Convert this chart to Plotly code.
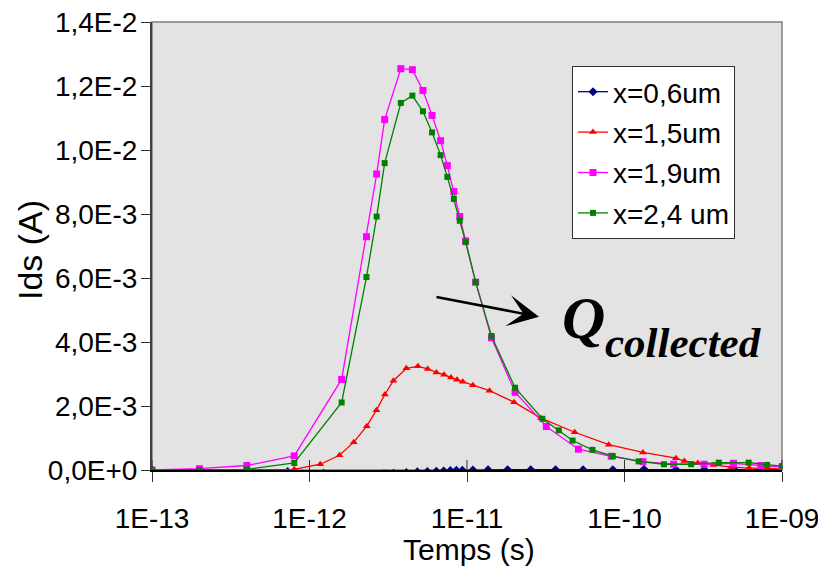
import plotly.graph_objects as go

# ---- data (time in s, current in mA -> converted to A) ----
t_06 = [1e-13, 2e-13, 4e-13, 7.26e-13, 1.23e-12, 1.57e-12, 1.8e-12, 2.16e-12, 2.97e-12, 3.1e-12,
        3.42e-12, 4.12e-12, 4.84e-12, 5.6e-12, 6.39e-12, 7.11e-12, 7.84e-12, 8.56e-12, 9.35e-12,
        1.09e-11, 1.36e-11, 1.81e-11, 2.54e-11, 3.65e-11, 5.46e-11, 8.43e-11, 1.33e-10, 2.12e-10,
        3.21e-10, 4.95e-10, 7.78e-10, 1e-9]
i_06 = [0, 0, 0, -0.05, -0.10, -0.13, -0.14, -0.14, -0.12, -0.12, -0.10, -0.08, -0.06, -0.05,
        -0.04, -0.03, -0.02, -0.01, -0.01, 0, 0.01, 0.01, 0.01, 0.01, 0.01, 0.01, 0.02, 0.01,
        0.01, 0.02, 0.01, 0.01]

t_15 = [1e-13, 2e-13, 4e-13, 8e-13, 1.17e-12, 1.55e-12, 1.91e-12, 2.31e-12, 2.66e-12, 3.01e-12,
        3.41e-12, 4.12e-12, 4.88e-12, 5.63e-12, 6.39e-12, 7.15e-12, 7.91e-12, 8.64e-12, 9.4e-12,
        1.09e-11, 1.39e-11, 1.99e-11, 2.95e-11, 4.83e-11, 7.94e-11, 1.31e-10, 2.12e-10, 2.4e-10,
        2.92e-10, 3.67e-10, 4.75e-10, 6.19e-10, 7.98e-10, 1e-9]
i_15 = [0, 0, 0, 0.02, 0.18, 0.46, 0.87, 1.37, 1.87, 2.36, 2.79, 3.18, 3.24, 3.16, 3.05, 2.98,
        2.89, 2.82, 2.76, 2.65, 2.48, 2.12, 1.62, 1.18, 0.79, 0.55, 0.37, 0.28, 0.22, 0.16, 0.09,
        0.06, 0.06, 0.03]

t_19 = [1e-13, 2e-13, 4e-13, 8e-13, 1.6e-12, 2.3e-12, 2.67e-12, 3.0e-12, 3.8e-12, 4.5e-12,
        5.25e-12, 6.0e-12, 6.8e-12, 7.5e-12, 8.25e-12, 9.0e-12, 9.8e-12, 1.135e-11, 1.43e-11,
        2.02e-11, 3.19e-11, 5.1e-11, 8.24e-11, 1.31e-10, 2.05e-10, 3.2e-10, 4.92e-10, 7.34e-10, 1e-9]
i_19 = [0, 0.04, 0.14, 0.44, 2.83, 7.29, 9.25, 10.95, 12.54, 12.51, 11.86, 11.08, 10.29, 9.51,
        8.70, 7.92, 7.16, 5.87, 4.13, 2.43, 1.36, 0.65, 0.43, 0.26, 0.18, 0.18, 0.21, 0.14, 0.09]

t_24 = [1e-13, 2e-13, 4e-13, 8e-13, 1.6e-12, 2.3e-12, 2.67e-12, 3.0e-12, 3.8e-12, 4.5e-12,
        5.25e-12, 6.0e-12, 6.8e-12, 7.5e-12, 8.25e-12, 9.0e-12, 9.8e-12, 1.135e-11, 1.43e-11,
        2.02e-11, 3.01e-11, 3.83e-11, 4.68e-11, 6.26e-11, 8.43e-11, 1.23e-10, 1.78e-10, 2.65e-10,
        3.97e-10, 6.14e-10, 8.05e-10, 1e-9]
i_24 = [0, 0, 0.02, 0.22, 2.11, 6.03, 7.92, 9.59, 11.47, 11.70, 11.21, 10.55, 9.84, 9.16, 8.47,
        7.79, 7.12, 5.87, 4.19, 2.57, 1.60, 1.24, 0.92, 0.63, 0.43, 0.27, 0.18, 0.18, 0.23, 0.23,
        0.16, 0.12]

series_names = ["x=0,6um", "x=1,5um", "x=1,9um", "x=2,4 um"]

y_tickvals = [0, 0.002, 0.004, 0.006, 0.008, 0.010, 0.012, 0.014]
y_ticktext = ["0,0E+0", "2,0E-3", "4,0E-3", "6,0E-3", "8,0E-3", "1,0E-2", "1,2E-2", "1,4E-2"]
x_tickvals = [1e-13, 1e-12, 1e-11, 1e-10, 1e-9]
x_ticktext = ["1E-13", "1E-12", "1E-11", "1E-10", "1E-09"]

FONT = "Liberation Sans, Arial, sans-serif"
SERIF = "Liberation Serif, Times New Roman, serif"

# page body margin offset (the figure is drawn 8px in from the window corner)
OFF = 8
# plot-area geometry in window pixels
L, R, T, B = 152, 782, 22, 470
W, H = R - L, B - T


def px(x):
    return (x - L) / W


def py(y):
    return (B - y) / H


def mA(v):
    return [x * 1e-3 for x in v]


fig = go.Figure()
styles = [
    (t_06, i_06, "#000080", "diamond", 7),
    (t_15, i_15, "#FF0000", "triangle-up", 7),
    (t_19, i_19, "#FF00FF", "square", 7),
    (t_24, i_24, "#008000", "square", 6),
]
for k, (t, v, col, sym, sz) in enumerate(styles):
    fig.add_trace(go.Scatter(
        x=t, y=mA(v), mode="lines+markers", name=series_names[k],
        line=dict(color=col, width=1.3),
        marker=dict(color=col, symbol=sym, size=sz, line=dict(width=0)),
        legendgroup=f"g{k}",
    ))

shapes = [
    dict(type="rect", xref="paper", yref="paper", x0=0, x1=1, y0=0, y1=1,
         line=dict(color="#808080", width=1.5), layer="below"),
]
for i in range(5):
    shapes.append(dict(type="line", xref="x domain", yref="paper", x0=i / 4, x1=i / 4,
                       y0=0, y1=10 / H, line=dict(color="#333333", width=1), layer="below"))

fig.update_layout(
    width=826, height=569,
    margin=dict(l=L - OFF, r=826 - R + OFF, t=T - OFF, b=569 - B + OFF, autoexpand=False),
    paper_bgcolor="white",
    plot_bgcolor="#E3E3E3",
    font=dict(family=FONT, size=28, color="black"),
    showlegend=True,
    legend=dict(x=px(572), y=py(66), xanchor="left", yanchor="top",
                bgcolor="white", bordercolor="#303030", borderwidth=1,
                font=dict(family=FONT, size=28, color="black"),
                traceorder="grouped", tracegroupgap=1, itemwidth=30),
    shapes=shapes,
    annotations=[
        dict(x=-10.543, y=0.00479, xref="x", yref="y", ax=-104, ay=-20, axref="pixel",
             ayref="pixel", text="", showarrow=True, arrowhead=3, arrowwidth=2.5,
             arrowsize=2.1, arrowcolor="black"),
        dict(x=px(560), y=py(353), xref="paper", yref="paper",
             text="<b><i>Q</i></b>", showarrow=False, xanchor="left", yanchor="bottom",
             font=dict(family=SERIF, size=60, color="black")),
        dict(x=px(603), y=py(368), xref="paper", yref="paper",
             text="<b><i>collected</i></b>", showarrow=False, xanchor="left", yanchor="bottom",
             font=dict(family=SERIF, size=43, color="black")),
        dict(x=px(469), y=py(549), xref="paper", yref="paper", text="Temps (s)",
             showarrow=False, xanchor="center", yanchor="middle",
             font=dict(family=FONT, size=30, color="black")),
        dict(x=px(30), y=py(250), xref="paper", yref="paper", text="Ids (A)",
             showarrow=False, xanchor="center", yanchor="middle", textangle=-90,
             font=dict(family=FONT, size=34, color="black")),
    ],
)

fig.update_xaxes(
    type="log", range=[-13, -9], automargin=False,
    tickvals=x_tickvals, ticktext=x_ticktext,
    showgrid=False, zeroline=False,
    showline=True, linecolor="black", linewidth=1.5,
    ticks="outside", ticklen=10, tickcolor="#333333", tickwidth=1,
    ticklabelstandoff=13, ticklabeloverflow="allow",
    tickfont=dict(family=FONT, size=28, color="black"),
)
fig.update_yaxes(
    range=[0, 0.014], automargin=False,
    tickvals=y_tickvals, ticktext=y_ticktext,
    showgrid=False, zeroline=False,
    showline=True, linecolor="#404040", linewidth=2,
    ticks="outside", ticklen=9, tickcolor="#333333", tickwidth=1,
    ticklabelstandoff=-2, ticklabeloverflow="allow",
    tickfont=dict(family=FONT, size=28, color="black"),
)

fig.write_html("out.html")
